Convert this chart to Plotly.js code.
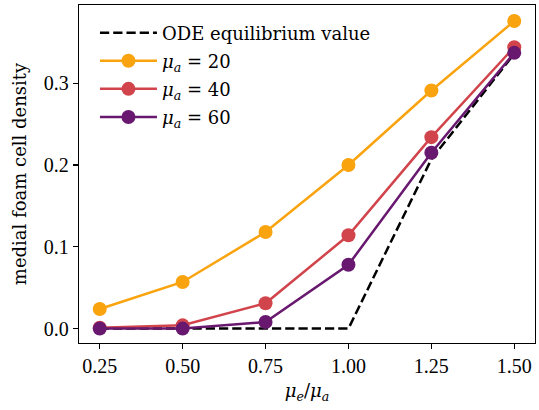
<!DOCTYPE html>
<html>
<head>
<meta charset="utf-8">
<script src="https://cdn.plot.ly/plotly-3.0.1.min.js"></script>
<style>html,body{margin:0;padding:0;background:#fff;}#chart{width:539px;height:410px;}</style>
</head>
<body>
<div id="chart"></div>
<script>
const ratio = [0.25, 0.5, 0.75, 1.0, 1.25, 1.5];
const odeValue = [0, 0, 0, 0, 0.207, 0.336];
const mu20 = [0.024, 0.057, 0.118, 0.200, 0.291, 0.376];
const mu40 = [0.001, 0.004, 0.031, 0.114, 0.234, 0.344];
const mu60 = [0.0, 0.0, 0.008, 0.078, 0.215, 0.337];
const seriesNames = ['ODE equilibrium value', '<i>μ</i><sub><i>a</i></sub> = 20', '<i>μ</i><sub><i>a</i></sub> = 40', '<i>μ</i><sub><i>a</i></sub> = 60'];
const xTickText = ['0.25', '0.50', '0.75', '1.00', '1.25', '1.50'];
const yTickVals = [0, 0.1, 0.2, 0.3];
const yTickText = ['0.0', '0.1', '0.2', '0.3'];
const colors = ['#000000', '#f9a30e', '#d1444b', '#68186e'];

const TICKFONT = 'Liberation Serif, serif';
const TEXTFONT = 'DejaVu Serif, serif';
const traces = [
  {x: ratio, y: odeValue, name: seriesNames[0], legendgroup: 'g0', mode: 'lines', line: {color: colors[0], width: 2.5, dash: '9.25px,4px'}},
  {x: ratio, y: mu20, name: seriesNames[1], legendgroup: 'g1', mode: 'lines+markers', line: {color: colors[1], width: 2.5}, marker: {size: 14, color: colors[1]}},
  {x: ratio, y: mu40, name: seriesNames[2], legendgroup: 'g2', mode: 'lines+markers', line: {color: colors[2], width: 2.5}, marker: {size: 14, color: colors[2]}},
  {x: ratio, y: mu60, name: seriesNames[3], legendgroup: 'g3', mode: 'lines+markers', line: {color: colors[3], width: 2.5}, marker: {size: 14, color: colors[3]}}
];
const layout = {
  width: 539, height: 410,
  margin: {l: 79, r: 4, t: 5, b: 67},
  paper_bgcolor: '#fff', plot_bgcolor: '#fff',
  font: {family: TEXTFONT, size: 18, color: '#000'},
  showlegend: true,
  legend: {x: 0.035, y: 0.972, xanchor: 'left', yanchor: 'top', bgcolor: 'rgba(255,255,255,0.8)', borderwidth: 0,
           itemwidth: 57, font: {family: TEXTFONT, size: 18}, tracegroupgap: 1.7},
  xaxis: {
    range: [0.1875, 1.5625], tickvals: ratio, ticktext: xTickText,
    tickfont: {family: TICKFONT, size: 20},
    showgrid: false, zeroline: false, showline: true, linecolor: '#000', linewidth: 1.2, mirror: true,
    ticks: 'outside', ticklen: 5, tickwidth: 1.2, tickcolor: '#000',
    title: {text: '<i>μ</i><sub><i>e</i></sub>/<i>μ</i><sub><i>a</i></sub>', font: {family: TEXTFONT, size: 18}, standoff: 8}
  },
  yaxis: {
    range: [-0.0176, 0.3955], tickvals: yTickVals, ticktext: yTickText,
    tickfont: {family: TICKFONT, size: 20},
    showgrid: false, zeroline: false, showline: true, linecolor: '#000', linewidth: 1.2, mirror: true,
    ticks: 'outside', ticklen: 5, tickwidth: 1.2, tickcolor: '#000',
    title: {text: 'medial foam cell density', font: {family: TEXTFONT, size: 18}, standoff: 12}
  }
};
Plotly.newPlot('chart', traces, layout, {displayModeBar: false, staticPlot: true});
</script>
</body>
</html>
